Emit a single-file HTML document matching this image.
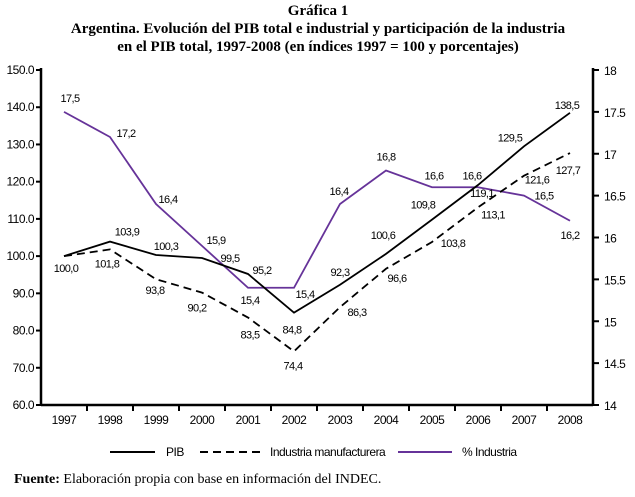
<!DOCTYPE html>
<html><head><meta charset="utf-8"><style>
body{margin:0;background:#fff;width:635px;height:492px;overflow:hidden}
svg text{font-family:"Liberation Sans Narrow","Liberation Sans",sans-serif}
.t{font-family:"Liberation Serif",serif!important;font-weight:bold;font-size:15px}
.lb{font-size:11px;letter-spacing:-0.6px}
.ax{font-size:12px;letter-spacing:-0.5px}
</style></head><body>
<svg id="c" width="635" height="492">
<text class="t" x="318" y="15" text-anchor="middle">Gráfica 1</text>
<text class="t" x="318" y="33" text-anchor="middle">Argentina. Evolución del PIB total e industrial y participación de la industria</text>
<text class="t" x="318" y="51" text-anchor="middle">en el PIB total, 1997-2008 (en índices 1997 = 100 y porcentajes)</text>
<g id="axes"></g><g id="series"></g>
<g>
<line x1="110" y1="452" x2="155" y2="452" stroke="#000" stroke-width="2"/>
<text class="ax" x="166" y="456">PIB</text>
<line x1="200" y1="452" x2="262" y2="452" stroke="#000" stroke-width="2" stroke-dasharray="8,5"/>
<text class="ax" x="270" y="456">Industria manufacturera</text>
<line x1="398" y1="452" x2="452" y2="452" stroke="#663399" stroke-width="2"/>
<text class="ax" x="462" y="456">% Industria</text>
</g>
<text x="14" y="483" style="font-family:'Liberation Serif',serif;font-size:14px"><tspan font-weight="bold">Fuente:</tspan> Elaboración propia con base en información del INDEC.</text>
</svg>
<script>
const years=["1997","1998","1999","2000","2001","2002","2003","2004","2005","2006","2007","2008"];
const pib=[100,103.9,100.3,99.5,95.2,84.8,92.3,100.6,109.8,119.1,129.5,138.5];
const ind=[100,101.8,93.8,90.2,83.5,74.4,86.3,96.6,103.8,113.1,121.6,127.7];
const pct=[17.5,17.2,16.4,15.9,15.4,15.4,16.4,16.8,16.6,16.6,16.5,16.2];
const leftTicks=[60,70,80,90,100,110,120,130,140,150];
const rightTicks=[14,14.5,15,15.5,16,16.5,17,17.5,18];
// label layout offsets (dx,dy)
const pibOff=[[2,12],[17,-10],[10,-9],[28,0],[14,-4],[-2,17],[0,-13],[-3,-19],[-9,-15],[4,8],[-14,-9],[-3,-8]];
const indOff=[null,[-3,14],[-1,11],[-5,15],[2,17],[-1,14],[17,5],[11,9],[21,1],[15,7],[13,4],[-2,17]];
const pctOff=[[6,-14],[16,-4],[12,-5],[14,-6],[2,12],[11,6],[-1,-13],[0,-14],[2,-12],[-6,-12],[20,0],[0,14]];
const L=41,R=593,T=70,B=405;
const xs=i=>L+(R-L)/years.length*(i+0.5);
const yl=v=>B-(v-60)/90*(B-T);
const yr=v=>B-(v-14)/4*(B-T);
const NS="http://www.w3.org/2000/svg";
function mk(tag,attrs,parent){const e=document.createElementNS(NS,tag);for(const k in attrs)e.setAttribute(k,attrs[k]);parent.appendChild(e);return e;}
const ax=document.getElementById('axes'),sr=document.getElementById('series');
let e;
e=mk('line',{x1:L,y1:T-2,x2:L,y2:B,stroke:'#000','stroke-width':2.5},ax);


e=mk('line',{x1:R,y1:T-2,x2:R,y2:B,stroke:'#000','stroke-width':2.5},ax);


e=mk('line',{x1:L,y1:B,x2:R,y2:B,stroke:'#000','stroke-width':2.5},ax);


leftTicks.forEach(v=>{mk('line',{x1:L-5,y1:yl(v),x2:L,y2:yl(v),stroke:'#000','stroke-width':2},ax);
 e=mk('text',{x:L-7,y:yl(v)+4,'text-anchor':'end',class:'ax'},ax);e.textContent=v.toFixed(1);
 
 });
rightTicks.forEach(v=>{mk('line',{x1:R,y1:yr(v),x2:R+6,y2:yr(v),stroke:'#000','stroke-width':2},ax);
 e=mk('text',{x:R+11,y:yr(v)+5,class:'ax'},ax);e.textContent=String(v);
 
 });
years.forEach((y,i)=>{const bx=L+(R-L)/years.length*i;
 if(i>0)mk('line',{x1:bx,y1:B,x2:bx,y2:B+6,stroke:'#000','stroke-width':2},ax);
 e=mk('text',{x:xs(i),y:B+19,'text-anchor':'middle',class:'ax'},ax);e.textContent=y;
 
 });
function series(data,yf,color,dash,name,offs){
 const p=data.map((v,i)=>xs(i)+','+yf(v)).join(' ');
 const a={points:p,fill:'none',stroke:color,'stroke-width':1.8};if(dash)a['stroke-dasharray']=dash;
 e=mk('polyline',a,sr);
 
 
 data.forEach((v,i)=>{if(!offs[i])return;
  e=mk('text',{x:xs(i)+offs[i][0],y:yf(v)+offs[i][1]+4,'text-anchor':'middle',class:'lb'},sr);
  e.textContent=v.toFixed(1).replace('.',',');
  
  });
}
series(pct,yr,'#663399',null,'pct-industria',pctOff);
series(ind,yl,'#000','8,5','industria',indOff);
series(pib,yl,'#000',null,'pib',pibOff);
</script>
</body></html>
